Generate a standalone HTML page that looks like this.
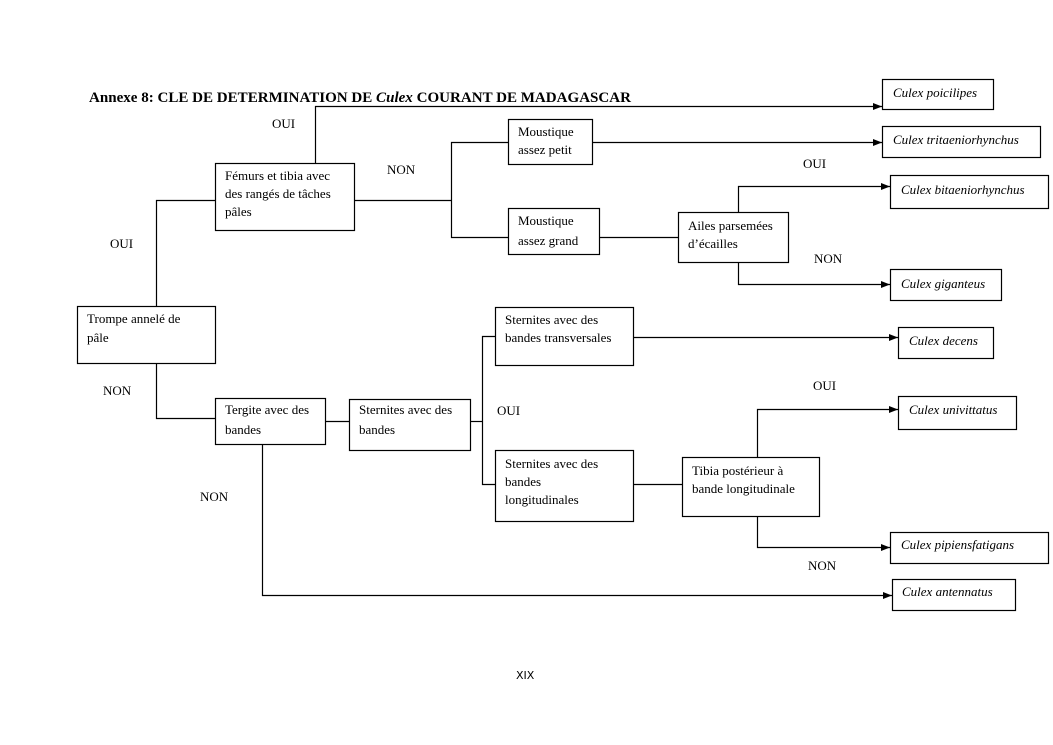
<!DOCTYPE html>
<html><head><meta charset="utf-8"><style>
html,body{margin:0;padding:0;background:#fff;}
svg{display:block;}
text{font-family:"Liberation Serif",serif;font-size:13px;fill:#000;}
.i{font-style:italic;}
</style></head><body>
<svg width="1053" height="745" viewBox="0 0 1053 745" xmlns="http://www.w3.org/2000/svg">
<defs><marker id="a" markerWidth="9" markerHeight="8" refX="9" refY="4" orient="auto" markerUnits="userSpaceOnUse"><path d="M0,0.5 L9,4 L0,7.5z" fill="#000"/></marker></defs>
<text x="89" y="102" style="font-weight:bold;font-size:15px" textLength="542" lengthAdjust="spacingAndGlyphs">Annexe 8: CLE DE DETERMINATION DE <tspan font-style="italic">Culex</tspan> COURANT DE MADAGASCAR</text>
<g fill="none" stroke="#000" stroke-width="1.2">
<rect x="882.5" y="79.5" width="111" height="30"/>
<rect x="882.5" y="126.5" width="158" height="31"/>
<rect x="890.5" y="175.5" width="158" height="33"/>
<rect x="890.5" y="269.5" width="111" height="31"/>
<rect x="898.5" y="327.5" width="95" height="31"/>
<rect x="898.5" y="396.5" width="118" height="33"/>
<rect x="890.5" y="532.5" width="158" height="31"/>
<rect x="892.5" y="579.5" width="123" height="31"/>
<rect x="215.5" y="163.5" width="139" height="67"/>
<rect x="508.5" y="119.5" width="84" height="45"/>
<rect x="508.5" y="208.5" width="91" height="46"/>
<rect x="678.5" y="212.5" width="110" height="50"/>
<rect x="77.5" y="306.5" width="138" height="57"/>
<rect x="215.5" y="398.5" width="110" height="46"/>
<rect x="349.5" y="399.5" width="121" height="51"/>
<rect x="495.5" y="307.5" width="138" height="58"/>
<rect x="495.5" y="450.5" width="138" height="71"/>
<rect x="682.5" y="457.5" width="137" height="59"/>
<polyline points="315.5,163 315.5,106.5 882,106.5" marker-end="url(#a)"/>
<polyline points="354,200.5 451.5,200.5"/>
<polyline points="508,142.5 451.5,142.5 451.5,237.5 508,237.5"/>
<polyline points="592,142.5 882,142.5" marker-end="url(#a)"/>
<polyline points="599,237.5 678,237.5"/>
<polyline points="738.5,212 738.5,186.5 890,186.5" marker-end="url(#a)"/>
<polyline points="738.5,262 738.5,284.5 890,284.5" marker-end="url(#a)"/>
<polyline points="156.5,306 156.5,200.5 215,200.5"/>
<polyline points="156.5,363 156.5,418.5 215,418.5"/>
<polyline points="325,421.5 349,421.5"/>
<polyline points="470,421.5 482.5,421.5"/>
<polyline points="495,336.5 482.5,336.5 482.5,484.5 495,484.5"/>
<polyline points="633,337.5 898,337.5" marker-end="url(#a)"/>
<polyline points="633,484.5 682,484.5"/>
<polyline points="757.5,457 757.5,409.5 898,409.5" marker-end="url(#a)"/>
<polyline points="757.5,516 757.5,547.5 890,547.5" marker-end="url(#a)"/>
<polyline points="262.5,444 262.5,595.5 892,595.5" marker-end="url(#a)"/>
</g>
<text class="i" x="893" y="97">Culex poicilipes</text>
<text class="i" x="893" y="144">Culex tritaeniorhynchus</text>
<text class="i" x="901" y="194">Culex bitaeniorhynchus</text>
<text class="i" x="901" y="288">Culex giganteus</text>
<text class="i" x="909" y="345">Culex decens</text>
<text class="i" x="909" y="414">Culex univittatus</text>
<text class="i" x="901" y="549">Culex pipiensfatigans</text>
<text class="i" x="902" y="596">Culex antennatus</text>
<text x="225" y="180">Fémurs et tibia avec</text>
<text x="225" y="198">des rangés de tâches</text>
<text x="225" y="216">pâles</text>
<text x="518" y="136">Moustique</text>
<text x="518" y="154">assez petit</text>
<text x="518" y="225">Moustique</text>
<text x="518" y="245">assez grand</text>
<text x="688" y="230">Ailes parsemées</text>
<text x="688" y="248">d’écailles</text>
<text x="87" y="323">Trompe annelé de</text>
<text x="87" y="342">pâle</text>
<text x="225" y="414">Tergite avec des</text>
<text x="225" y="434">bandes</text>
<text x="359" y="414">Sternites avec des</text>
<text x="359" y="434">bandes</text>
<text x="505" y="324">Sternites avec des</text>
<text x="505" y="342">bandes transversales</text>
<text x="505" y="468">Sternites avec des</text>
<text x="505" y="486">bandes</text>
<text x="505" y="504">longitudinales</text>
<text x="692" y="475">Tibia postérieur à</text>
<text x="692" y="493">bande longitudinale</text>
<text x="272" y="128">OUI</text>
<text x="387" y="174">NON</text>
<text x="110" y="248">OUI</text>
<text x="103" y="395">NON</text>
<text x="803" y="168">OUI</text>
<text x="814" y="263">NON</text>
<text x="497" y="415">OUI</text>
<text x="200" y="501">NON</text>
<text x="813" y="390">OUI</text>
<text x="808" y="570">NON</text>
<text x="516" y="679" style="font-family:'DejaVu Sans',sans-serif;font-size:11px">XIX</text>
</svg>
</body></html>
